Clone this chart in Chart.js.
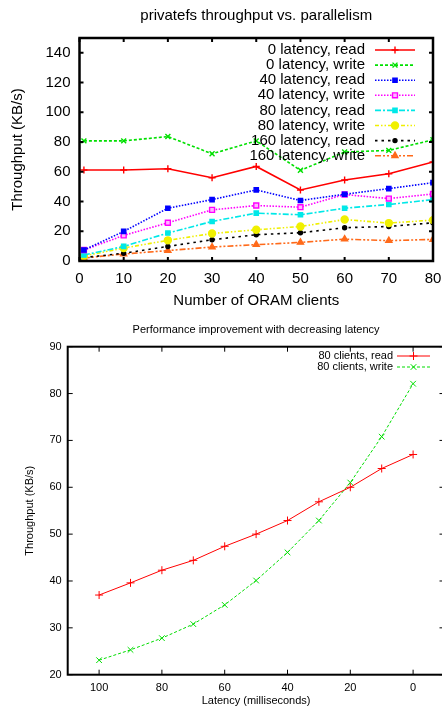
<!DOCTYPE html>
<html>
<head>
<meta charset="utf-8">
<script src="https://cdn.jsdelivr.net/npm/chart.js@4.4.1/dist/chart.umd.min.js"></script>
<style>
html, body { margin: 0; padding: 0; background: #fff; overflow: hidden; width: 442px; height: 709px; }
canvas { position: absolute; left: 0; }
#c1 { top: 0; }
#c2 { top: 320px; }
</style>
</head>
<body>
<canvas id="c1" width="442" height="320"></canvas>
<canvas id="c2" width="450" height="389"></canvas>
<script>
'use strict';
/* ─── Chart 1 data: throughput vs. number of ORAM clients ─── */
const clients      = [1, 10, 20, 30, 40, 50, 60, 70, 80];
const lat0Read     = [61.2, 61.2, 62.1, 56.0, 63.6, 47.8, 54.5, 58.7, 66.6];
const lat0Write    = [80.8, 80.8, 83.7, 72.1, 80.8, 61.0, 73.3, 74.4, 81.5];
const lat40Read    = [7.4, 19.9, 35.5, 41.3, 47.8, 40.7, 44.9, 48.7, 52.7];
const lat40Write   = [7.4, 17.2, 25.7, 34.4, 37.3, 36.2, 44.7, 42.0, 45.1];
const lat80Read    = [4.0, 9.8, 18.8, 26.6, 32.2, 31.1, 35.5, 38.0, 41.3];
const lat80Write   = [3.4, 8.7, 13.9, 18.5, 21.0, 23.2, 27.9, 25.5, 27.5];
const lat160Read   = [2.3, 5.2, 9.8, 14.3, 17.7, 19.0, 22.4, 23.2, 25.7];
const lat160Write  = [2.0, 4.7, 7.0, 9.4, 11.0, 12.5, 14.7, 13.7, 14.5];
const xTicks1 = [0, 10, 20, 30, 40, 50, 60, 70, 80];
const yTicks1 = [0, 20, 40, 60, 80, 100, 120, 140];

/* ─── Chart 2 data: 80 clients, throughput vs. latency ─── */
const latencies   = [100, 90, 80, 70, 60, 50, 40, 30, 20, 10, 0];
const clients80Read  = [37.0, 39.6, 42.3, 44.4, 47.4, 50.0, 52.9, 56.9, 60.0, 64.0, 67.0];
const clients80Write = [23.1, 25.3, 27.8, 30.8, 34.9, 40.1, 46.1, 52.9, 61.0, 70.8, 82.1];
const xTicks2 = [100, 80, 60, 40, 20, 0];
const yTicks2 = [20, 30, 40, 50, 60, 70, 80, 90];

const FONT = "'Liberation Sans', Arial, Helvetica, sans-serif";

function pts(xs, ys) { return xs.map((x, i) => ({ x: x, y: ys[i] })); }

/* ─── gnuplot-ish frame: border, inward mirror ticks, title, key ─── */
const gnuFrame = {
  id: 'gnuFrame',
  afterDraw(chart, args, o) {
    const ctx = chart.ctx, a = chart.chartArea;
    const xs = chart.scales.x, ys = chart.scales.y;
    ctx.save();
    ctx.strokeStyle = '#000';
    ctx.lineWidth = o.tickWidth;
    ctx.beginPath();
    o.xTicks.forEach(v => {
      const px = xs.getPixelForValue(v);
      ctx.moveTo(px, a.bottom); ctx.lineTo(px, a.bottom - o.tickLen);
      ctx.moveTo(px, a.top);    ctx.lineTo(px, a.top + o.tickLen);
    });
    o.yTicks.forEach(v => {
      const py = ys.getPixelForValue(v);
      ctx.moveTo(a.left, py);  ctx.lineTo(a.left + o.tickLen, py);
      ctx.moveTo(a.right, py); ctx.lineTo(a.right - o.tickLen, py);
    });
    ctx.stroke();
    ctx.lineWidth = o.borderWidth;
    ctx.strokeRect(a.left, a.top, a.right - a.left, a.bottom - a.top);

    // title centred over the plot
    ctx.fillStyle = '#000';
    ctx.font = o.titleSize + 'px ' + FONT;
    ctx.textAlign = 'center';
    ctx.textBaseline = 'middle';
    ctx.fillText(o.title, (a.left + a.right) / 2, o.titleY);

    // key: right-aligned text, then sample line with marker
    ctx.font = o.keySize + 'px ' + FONT;
    ctx.textAlign = 'right';
    chart.data.datasets.forEach((ds, i) => {
      const y = o.keyY + i * o.keyStep;
      ctx.fillStyle = '#000';
      ctx.fillText(ds.label, o.keyText, y);
      ctx.strokeStyle = ds.borderColor;
      ctx.lineWidth = ds.borderWidth;
      ctx.setLineDash(ds.borderDash || []);
      ctx.beginPath();
      ctx.moveTo(o.keyX1, y); ctx.lineTo(o.keyX2, y);
      ctx.stroke();
      ctx.setLineDash([]);
      if (Chart.helpers && Chart.helpers.drawPoint) {
        ctx.fillStyle = ds.pointBackgroundColor || ds.borderColor;
        ctx.strokeStyle = ds.borderColor;
        ctx.lineWidth = ds.pointBorderWidth || 1;
        Chart.helpers.drawPoint(ctx, {
          pointStyle: ds.pointStyle, radius: ds.pointRadius,
          borderWidth: ds.pointBorderWidth || 1, rotation: 0
        }, (o.keyX1 + o.keyX2) / 2, y);
      }
    });
    ctx.restore();
  }
};

function series(label, ys, color, dash, style, radius, fill) {
  return {
    label: label,
    data: pts(clients, ys),
    borderColor: color,
    borderWidth: 1.6,
    borderDash: dash,
    pointStyle: style,
    pointRadius: radius,
    pointBorderWidth: 1.4,
    pointBackgroundColor: fill || color,
    pointBorderColor: color,
    tension: 0
  };
}

new Chart(document.getElementById('c1'), {
  type: 'line',
  data: {
    datasets: [
      series('0 latency, read',    lat0Read,    '#ff0000', [],           'cross',    3.5),
      series('0 latency, write',   lat0Write,   '#00e000', [3, 2],       'crossRot', 3.5),
      series('40 latency, read',   lat40Read,   '#0000ff', [1.5, 1.5],   'rect',     3),
      series('40 latency, write',  lat40Write,  '#ff00ff', [1.5, 1.5],   'rect',     3.5, '#ffb8ff'),
      series('80 latency, read',   lat80Read,   '#00e8e8', [6, 2, 2, 2], 'rect',     3),
      series('80 latency, write',  lat80Write,  '#f0f000', [4, 2, 1.5, 2, 1.5, 2], 'circle', 3.5),
      series('160 latency, read',  lat160Read,  '#000000', [2.5, 4],     'circle',   2),
      series('160 latency, write', lat160Write, '#ff6a1a', [6, 2, 2, 2, 2, 2], 'triangle', 3.5)
    ]
  },
  options: {
    responsive: false,
    animation: false,
    devicePixelRatio: 1,
    layout: { padding: { left: 0, right: 9, top: 38, bottom: 0 } },
    plugins: {
      legend: { display: false },
      tooltip: { enabled: false },
      gnuFrame: {
        xTicks: xTicks1, yTicks: yTicks1, tickLen: 4, tickWidth: 2, borderWidth: 2.5,
        title: 'privatefs throughput vs. parallelism', titleSize: 15, titleY: 16,
        keySize: 15, keyY: 50, keyStep: 15.1, keyText: 365, keyX1: 375, keyX2: 415
      }
    },
    scales: {
      x: {
        type: 'linear', min: 0, max: 80,
        grid: { display: false, drawTicks: false },
        border: { display: false },
        afterBuildTicks(s) { s.ticks = xTicks1.map(v => ({ value: v })); },
        afterFit(s) { s.height = 59; s.paddingLeft = 0; s.paddingRight = 0; },
        ticks: { padding: 9, color: '#000', font: { family: FONT, size: 15 }, maxRotation: 0, autoSkip: false },
        title: { display: true, text: 'Number of ORAM clients', color: '#000',
                 font: { family: FONT, size: 15 }, padding: { top: 10, bottom: 10 } }
      },
      y: {
        type: 'linear', min: 0, max: 150,
        grid: { display: false, drawTicks: false },
        border: { display: false },
        afterBuildTicks(s) { s.ticks = yTicks1.map(v => ({ value: v })); },
        afterFit(s) { s.width = 79.5; s.paddingTop = 0; s.paddingBottom = 0; },
        ticks: { padding: 9, color: '#000', font: { family: FONT, size: 15 } },
        title: { display: true, text: 'Throughput (KB/s)', color: '#000',
                 font: { family: FONT, size: 15 }, padding: { top: 9, bottom: 0 } }
      }
    }
  },
  plugins: [gnuFrame]
});

new Chart(document.getElementById('c2'), {
  type: 'line',
  data: {
    datasets: [
      { label: '80 clients, read', data: pts(latencies, clients80Read),
        borderColor: '#ff0000', borderWidth: 1, pointStyle: 'cross', pointRadius: 4,
        pointBorderWidth: 1, pointBackgroundColor: '#ff0000', pointBorderColor: '#ff0000', tension: 0 },
      { label: '80 clients, write', data: pts(latencies, clients80Write),
        borderColor: '#00dd00', borderWidth: 1, borderDash: [3, 2], pointStyle: 'crossRot', pointRadius: 4,
        pointBorderWidth: 1, pointBackgroundColor: '#00dd00', pointBorderColor: '#00dd00', tension: 0 }
    ]
  },
  options: {
    responsive: false,
    animation: false,
    devicePixelRatio: 1,
    layout: { padding: { left: 0, right: 5.5, top: 26.7, bottom: 0 } },
    plugins: {
      legend: { display: false },
      tooltip: { enabled: false },
      gnuFrame: {
        xTicks: xTicks2, yTicks: yTicks2, tickLen: 5, tickWidth: 1, borderWidth: 2,
        title: 'Performance improvement with decreasing latency', titleSize: 11, titleY: 10,
        keySize: 11, keyY: 36, keyStep: 11, keyText: 393, keyX1: 397, keyX2: 430
      }
    },
    scales: {
      x: {
        type: 'linear', min: -10, max: 110, reverse: true,
        grid: { display: false, drawTicks: false },
        border: { display: false },
        afterBuildTicks(s) { s.ticks = xTicks2.map(v => ({ value: v })); },
        afterFit(s) { s.height = 34.3; s.paddingLeft = 0; s.paddingRight = 0; },
        ticks: { padding: 7, color: '#000', font: { family: FONT, size: 11 }, maxRotation: 0, autoSkip: false },
        title: { display: true, text: 'Latency (milliseconds)', color: '#000',
                 font: { family: FONT, size: 11 }, padding: { top: 1, bottom: 1 } }
      },
      y: {
        type: 'linear', min: 20, max: 90,
        grid: { display: false, drawTicks: false },
        border: { display: false },
        afterBuildTicks(s) { s.ticks = yTicks2.map(v => ({ value: v })); },
        afterFit(s) { s.width = 67.7; s.paddingTop = 0; s.paddingBottom = 0; },
        ticks: { padding: 6, color: '#000', font: { family: FONT, size: 11 } },
        title: { display: true, text: 'Throughput (KB/s)', color: '#000',
                 font: { family: FONT, size: 11 }, padding: { top: 23, bottom: 0 } }
      }
    }
  },
  plugins: [gnuFrame]
});
</script>
</body>
</html>
